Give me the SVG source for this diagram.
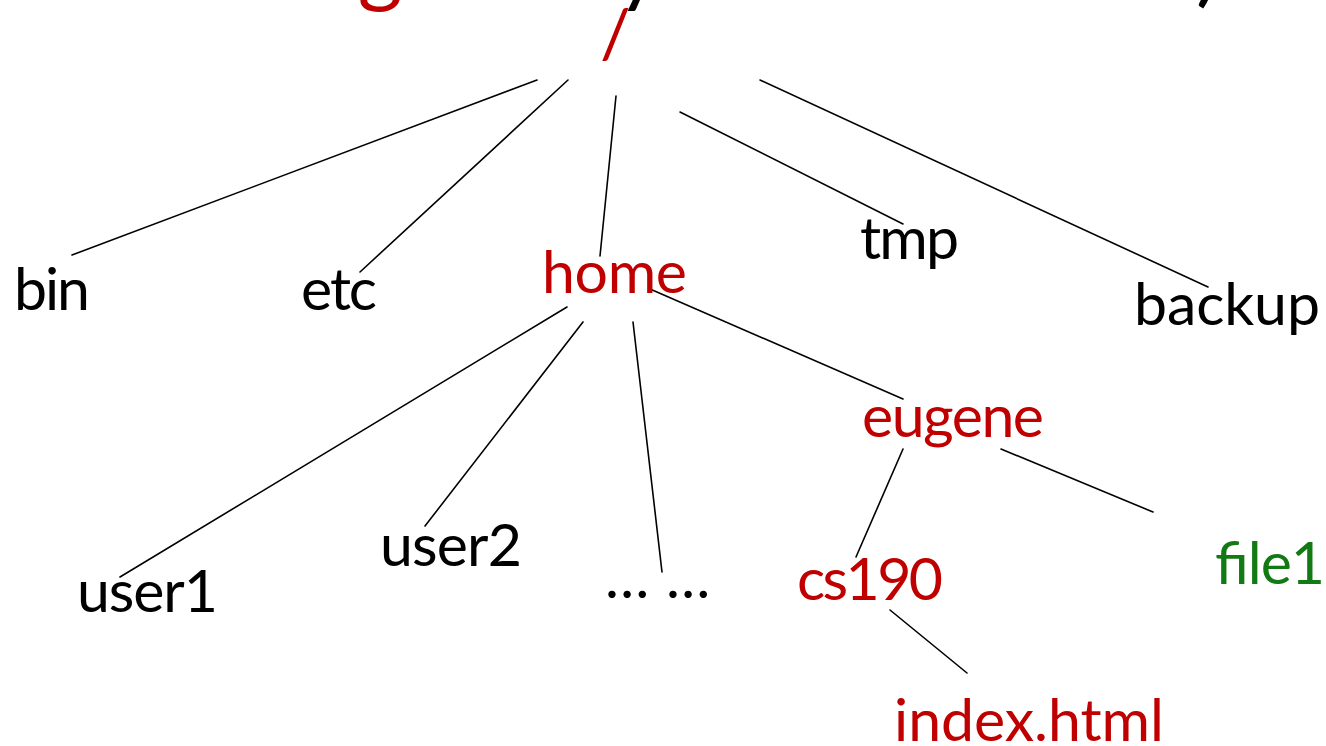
<svg xmlns="http://www.w3.org/2000/svg" width="1326" height="746" viewBox="0 0 1326 746">
<style>
text{font-family:Lato,"Open Sans","Liberation Sans",sans-serif;font-size:59px;fill:#000}
.red{fill:#C00000}
.green{fill:#127A12}
.edge{stroke:#000;stroke-width:1.6;fill:none;stroke-linecap:round}
</style>
<rect width="1326" height="746" fill="#fff"/>
<g id="title">
<text x="14" y="-4" style="font-size:86px"><tspan class="red" x="14" textLength="513">/home/eugene</tspan><tspan x="540" textLength="699">is your current dir).</tspan></text>
</g>
<g id="connectors">
<line class="edge" x1="537" y1="80" x2="72" y2="255"/>
<line class="edge" x1="568" y1="80" x2="360" y2="272"/>
<line class="edge" x1="616" y1="96" x2="600" y2="256"/>
<line class="edge" x1="680" y1="112" x2="903" y2="224"/>
<line class="edge" x1="760" y1="80" x2="1208" y2="287"/>
<line class="edge" x1="567" y1="307" x2="120" y2="577"/>
<line class="edge" x1="583" y1="322" x2="425" y2="526"/>
<line class="edge" x1="633" y1="322" x2="662" y2="572"/>
<line class="edge" x1="650" y1="289" x2="903" y2="399"/>
<line class="edge" x1="903" y1="449" x2="856" y2="557"/>
<line class="edge" x1="1001" y1="449" x2="1153" y2="512"/>
<line class="edge" x1="890" y1="610" x2="967" y2="673"/>
</g>
<g id="root"><text class="red" x="600" y="58" style="font-size:68px">/</text></g>
<g id="bin"><text x="14" y="310" textLength="76">bin</text></g>
<g id="etc"><text x="301" y="310" textLength="76">etc</text></g>
<g id="home"><text class="red" x="542" y="293" textLength="145">home</text></g>
<g id="tmp"><text x="860" y="259" textLength="99">tmp</text></g>
<g id="backup"><text x="1134" y="325" textLength="186">backup</text></g>
<g id="eugene"><text class="red" x="862" y="437" textLength="182">eugene</text></g>
<g id="user1"><text x="77" y="612" textLength="141">user1</text></g>
<g id="user2"><text x="380" y="566" textLength="142">user2</text></g>
<g id="more"><text y="598"><tspan x="605">…</tspan><tspan x="666">…</tspan></text></g>
<g id="cs190"><text class="red" x="797" y="600" textLength="146">cs190</text></g>
<g id="file1"><text class="green" x="1214" y="584" textLength="110">file1</text></g>
<g id="index"><text class="red" x="894" y="741" textLength="270">index.html</text></g>
</svg>
